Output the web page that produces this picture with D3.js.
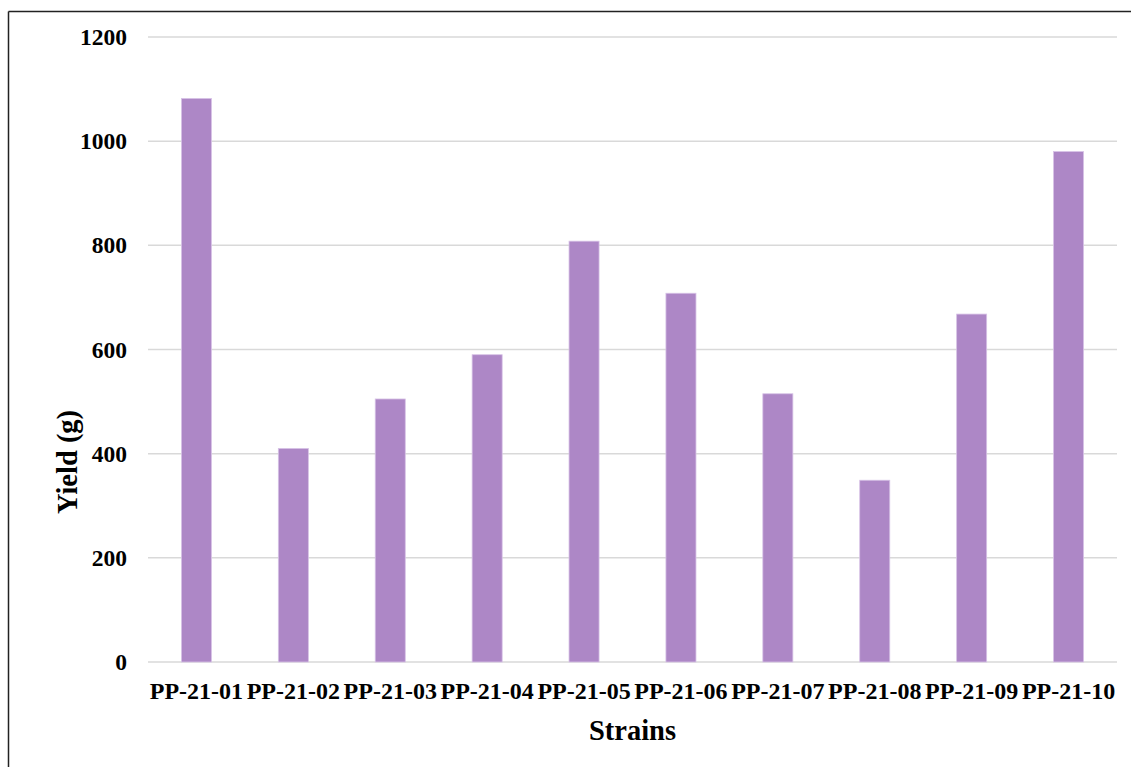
<!DOCTYPE html>
<html>
<head>
<meta charset="utf-8">
<script src="https://cdn.jsdelivr.net/npm/d3@7/dist/d3.min.js"></script>
<style>
  html, body { margin: 0; padding: 0; background: #fff; }
  svg { display: block; }
  text { font-family: "Liberation Serif", "Times New Roman", serif; font-weight: bold; fill: #000; }
</style>
</head>
<body>
<svg id="chart" width="1131" height="767"></svg>
<script>
// Yield per strain
const strains = ["PP-21-01", "PP-21-02", "PP-21-03", "PP-21-04", "PP-21-05",
                 "PP-21-06", "PP-21-07", "PP-21-08", "PP-21-09", "PP-21-10"];
const yieldValues = [1082, 410, 505, 590, 808, 708, 515, 349, 668, 980];
const yTicks = [0, 200, 400, 600, 800, 1000, 1200];

const svg = d3.select("#chart");
const margin = { left: 148, right: 1117, top: 37, bottom: 662 };

// Frame lines along the top and left of the figure
svg.append("line").attr("x1", 8.5).attr("x2", 1131).attr("y1", 11.5).attr("y2", 11.5)
  .attr("stroke", "#222").attr("stroke-width", 1.5);
svg.append("line").attr("x1", 8.5).attr("x2", 8.5).attr("y1", 11.5).attr("y2", 767)
  .attr("stroke", "#222").attr("stroke-width", 1.5);

const x = d3.scaleBand().domain(strains).range([margin.left, margin.right]).paddingInner(0.69).paddingOuter(0.345);
const y = d3.scaleLinear().domain([0, 1200]).range([margin.bottom, margin.top]);

// Horizontal gridlines
svg.append("g").selectAll("line").data(yTicks).join("line")
  .attr("x1", margin.left).attr("x2", margin.right)
  .attr("y1", d => y(d)).attr("y2", d => y(d))
  .attr("stroke", "#d9d9d9").attr("stroke-width", 1.5);

// Y axis labels
const yAxis = d3.axisLeft(y).tickValues(yTicks).tickSize(0).tickPadding(21).tickFormat(d3.format("d"));
const gy = svg.append("g").attr("transform", `translate(${margin.left},0)`).call(yAxis);
gy.select(".domain").remove();
gy.selectAll("text").style("font-size", "23.5px").style("font-family", "Liberation Serif").style("font-weight", "bold").attr("fill", "#000");

// Bars
svg.append("g").selectAll("rect").data(strains).join("rect")
  .attr("x", d => x(d))
  .attr("width", x.bandwidth())
  .attr("y", (d, i) => y(yieldValues[i]))
  .attr("height", (d, i) => y(0) - y(yieldValues[i]))
  .attr("fill", "#ad87c6")
  .attr("stroke", "#d7c2e6").attr("stroke-width", 0.8);

// X axis labels
const xAxis = d3.axisBottom(x).tickSize(0).tickPadding(20);
const gx = svg.append("g").attr("transform", `translate(0,${margin.bottom})`).call(xAxis);
gx.select(".domain").remove();
gx.selectAll("text").style("font-size", "24px").style("font-family", "Liberation Serif").style("font-weight", "bold").attr("fill", "#000");

// Axis titles
svg.append("text").attr("x", (margin.left + margin.right) / 2).attr("y", 740)
  .attr("text-anchor", "middle").style("font-size", "28.5px").text("Strains");
svg.append("text").attr("transform", "translate(77,462) rotate(-90)")
  .attr("text-anchor", "middle").style("font-size", "28.5px").text("Yield (g)");
</script>
</body>
</html>
